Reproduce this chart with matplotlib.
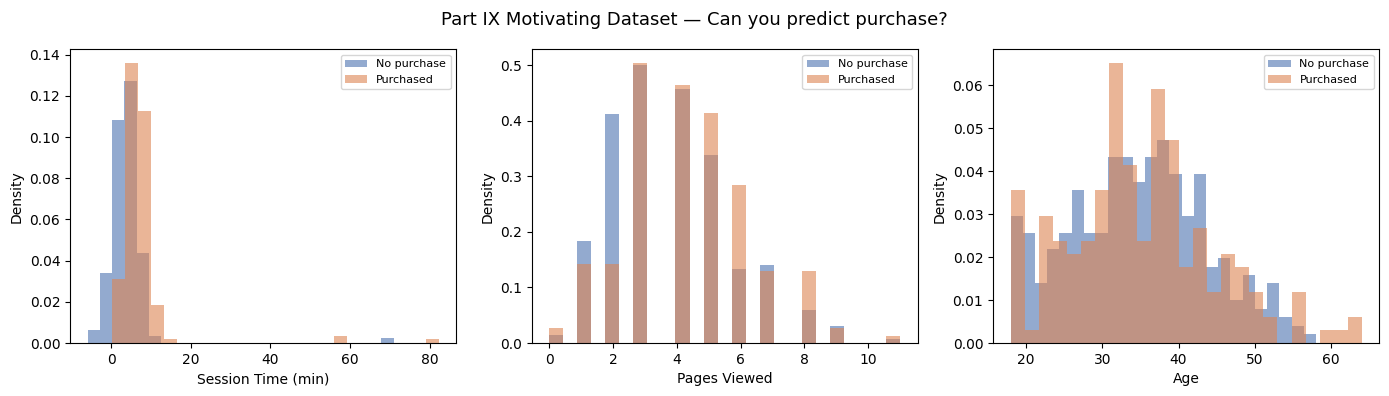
import numpy as np
import matplotlib
matplotlib.use("Agg")
import matplotlib.pyplot as plt

# ===============================
# DATA (densities)
# ===============================

LABELS = ["No purchase", "Purchased"]
COLORS = ["#4C72B0", "#DD8452"]

# Session time: 25 bins per class
SESSION_RANGE_NO = (-5.95, 71.0)
SESSION_RANGE_YES = (0.08, 82.3)
session_no = [0.0062, 0.0339, 0.1082, 0.1270, 0.0435, 0.0032,
              0, 0, 0, 0, 0, 0, 0, 0, 0, 0, 0, 0, 0, 0, 0, 0, 0, 0,
              0.0024]
session_yes = [0.0310, 0.1358, 0.1124, 0.0185, 0.0018,
               0, 0, 0, 0, 0, 0, 0, 0, 0, 0, 0, 0,
               0.0033,
               0, 0, 0, 0, 0, 0,
               0.0018]

# Pages viewed: integer values, 25 bins over 0..11
pages = [0, 1, 2, 3, 4, 5, 6, 7, 8, 9, 10, 11]
pages_no = [0.0138, 0.183, 0.412, 0.500, 0.457, 0.338, 0.1327, 0.140, 0.0588, 0.030, 0, 0.0066]
pages_yes = [0.0264, 0.1417, 0.1417, 0.5036, 0.464, 0.4136, 0.284, 0.129, 0.129, 0.0264, 0, 0.012]

# Age: 25 bins per class
AGE_RANGE_NO = (18, 58)
AGE_RANGE_YES = (18, 64)
age_no = [0.0295, 0.0257, 0.0139, 0.0218, 0.0257, 0.0355, 0.0257, 0.0257,
          0.0434, 0.0434, 0.0375, 0.0434, 0.0473, 0.0394, 0.0295, 0.0394,
          0.0178, 0.0197, 0.0099, 0.0158, 0.0079, 0.0139, 0.0060, 0.0039,
          0.0021]
age_yes = [0.0355, 0.0031, 0.0296, 0.0237, 0.0207, 0.0237, 0.0355, 0.0651,
           0.0414, 0.0237, 0.0592, 0.0473, 0.0178, 0.0267, 0.0118, 0.0207,
           0.0178, 0.0118, 0.0060, 0, 0.0118, 0, 0.0030, 0.0030,
           0.0060]


def binned(ax, rng, dens, color, label):
    edges = np.linspace(rng[0], rng[1], len(dens) + 1)
    ax.hist(edges[:-1], bins=edges, weights=dens, alpha=0.6,
            color=color, label=label)


# ===============================
# PLOT
# ===============================

fig, axes = plt.subplots(1, 3, figsize=(13.89, 3.96))

ax = axes[0]
binned(ax, SESSION_RANGE_NO, session_no, COLORS[0], LABELS[0])
binned(ax, SESSION_RANGE_YES, session_yes, COLORS[1], LABELS[1])
ax.set_xlabel("Session Time (min)")
ax.set_ylabel("Density")
ax.legend(fontsize=8, loc="upper right")

ax = axes[1]
page_bins = np.linspace(0, 11, 26)
ax.hist(pages, bins=page_bins, weights=pages_no, alpha=0.6,
        color=COLORS[0], label=LABELS[0])
ax.hist(pages, bins=page_bins, weights=pages_yes, alpha=0.6,
        color=COLORS[1], label=LABELS[1])
ax.set_xlabel("Pages Viewed")
ax.set_ylabel("Density")
ax.legend(fontsize=8, loc="upper right")

ax = axes[2]
binned(ax, AGE_RANGE_NO, age_no, COLORS[0], LABELS[0])
binned(ax, AGE_RANGE_YES, age_yes, COLORS[1], LABELS[1])
ax.set_xlabel("Age")
ax.set_ylabel("Density")
ax.legend(fontsize=8, loc="upper right")

fig.suptitle("Part IX Motivating Dataset \u2014 Can you predict purchase?",
             fontsize=13, y=0.972)
plt.subplots_adjust(left=0.0504, right=0.993, top=0.8755, bottom=0.1338, wspace=0.195)
plt.savefig("out.png", dpi=100)
